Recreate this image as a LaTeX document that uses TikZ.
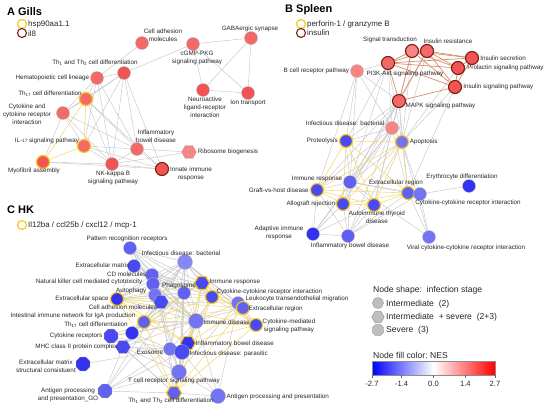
\documentclass[tikz,border=0pt]{standalone}
\usepackage{fontspec}
\setmainfont{Liberation Sans}
\usetikzlibrary{positioning, shapes.geometric, backgrounds}
\definecolor{rA}{HTML}{F05454}
\definecolor{rB}{HTML}{F46868}
\definecolor{rC}{HTML}{F68686}
\definecolor{bA}{HTML}{3232F0}
\definecolor{bB}{HTML}{4A4AF2}
\definecolor{bC}{HTML}{6060F2}
\definecolor{bD}{HTML}{7474F2}
\definecolor{bE}{HTML}{8888F4}
\definecolor{ringY}{HTML}{F7C81E}
\definecolor{ringBr}{HTML}{7E1E0E}
\definecolor{edgeY}{HTML}{F2DA78}
\definecolor{edgeO}{HTML}{D98A6A}
\definecolor{edgeG}{HTML}{C6C6C6}
\newcommand{\lowsz}[1]{{\fontsize{4.6}{5}\selectfont #1}}

\begin{document}
\begin{tikzpicture}[
    x=1pt, y=-1pt,
    pw/.style={circle, draw=black!30, line width=0.3pt, minimum size=13pt, inner sep=0pt},
    hexa/.style={regular polygon, regular polygon sides=6, draw=black!30, line width=0.3pt,
                 minimum size=15pt, inner sep=0pt},
    octa/.style={regular polygon, regular polygon sides=8, draw=black!30, line width=0.3pt,
                 minimum size=15pt, inner sep=0pt},
    ringy/.style={draw=ringY, line width=1.2pt},
    ringb/.style={draw=ringBr, line width=1.1pt},
    lbl/.style={font=\fontsize{6.3}{8}\selectfont, text=black!85, inner sep=0.5pt, align=center},
    ttl/.style={font=\fontsize{11}{12}\selectfont\bfseries, inner sep=0pt, anchor=west},
    lgd/.style={font=\fontsize{7.9}{9}\selectfont, text=black!85, inner sep=0pt, anchor=west},
    key/.style={font=\fontsize{8.6}{10}\selectfont, text=black!85, inner sep=0pt, anchor=west},
    gl/.style={draw=edgeG, line width=0.45pt},
    yl/.style={draw=edgeY, line width=0.6pt},
    ol/.style={draw=edgeO, line width=0.7pt}
]
\useasboundingbox (0,0) rectangle (550,410);

% ---------------- A Gills ----------------
\node[ttl] (tA) at (7,12) {A Gills};
\node[circle, ringy, minimum size=9pt, inner sep=0pt] (kAy) at (22,24) {};
\node[lgd] (kAyt) at (28,24) {hsp90aa1.1};
\node[circle, ringb, minimum size=9pt, inner sep=0pt] (kAb) at (22,33) {};
\node[lgd] (kAbt) at (28,34) {il8};

\node[pw, fill=rB] (cellAdh) at (142,43) {};
\node[pw, fill=rB] (cgmp) at (193,44) {};
\node[pw, fill=rB] (gaba) at (251,38) {};
\node[pw, fill=rA] (neuro) at (203,90) {};
\node[pw, fill=rA] (ionTr) at (248,93) {};
\node[pw, fill=rA] (th12G) at (124,73) {};
\node[pw, fill=rB] (hema) at (97,78) {};
\node[pw, fill=rB, ringy] (th17G) at (86,99) {};
\node[pw, fill=rB] (cytoG) at (63,113) {};
\node[pw, fill=rB, ringy] (il17) at (84,146) {};
\node[pw, fill=rA, ringy] (myo) at (43,162) {};
\node[pw, fill=rB] (ibdG) at (137,149) {};
\node[pw, fill=rA] (nfkb) at (112,164) {};
\node[hexa, fill=rC] (ribo) at (189,152) {};
\node[pw, fill=rA, ringb] (innate) at (162,169) {};

\node[lbl] (cellAdh-l) at (163,35) {Cell adhesion\\molecules};
\node[lbl] (cgmp-l) at (197,57.5) {cGMP-PKG\\signaling pathway};
\node[lbl] (gaba-l) at (250,29) {GABAergic synapse};
\node[lbl] (neuro-l) at (205,107) {Neuroactive\\ligand-receptor\\interaction};
\node[lbl] (ionTr-l) at (248,103) {Ion transport};
\node[lbl] (th12G-l) at (95,63) {Th\textsubscript{1} and Th\textsubscript{2} cell differentiation};
\node[lbl, left=0.5pt of hema] (hema-l) {Hematopoietic cell lineage};
\node[lbl] (th17G-l) at (50,94) {Th\textsubscript{17} cell differentiation};
\node[lbl] (cytoG-l) at (27,114) {Cytokine and\\cytokine receptor\\interaction};
\node[lbl] (il17-l) at (47,141) {IL-\lowsz{17} signaling pathway};
\node[lbl] (myo-l) at (34,170.5) {Myofibril assembly};
\node[lbl] (ibdG-l) at (156,136.5) {Inflammatory\\bowel disease};
\node[lbl] (nfkb-l) at (113,177.5) {NK-kappa B\\signaling pathway};
\node[lbl, right=0.5pt of ribo] (ribo-l) {Ribosome biogenesis};
\node[lbl] (innate-l) at (191,173.5) {Innate immune\\response};

% ---------------- B Spleen ----------------
\node[ttl] (tB) at (285,10) {B Spleen};
\node[circle, ringy, minimum size=9pt, inner sep=0pt] (kBy) at (301,24) {};
\node[lgd] (kByt) at (307,24) {perforin-1 / granzyme B};
\node[circle, ringb, minimum size=9pt, inner sep=0pt] (kBb) at (301,33) {};
\node[lgd] (kBbt) at (307,33) {insulin};

\node[pw, fill=rC, ringb] (sigTr) at (412,51) {};
\node[pw, fill=rB, ringb] (insRes) at (427,51) {};
\node[pw, fill=rB, ringb] (pi3k) at (388,63) {};
\node[pw, fill=rA, ringb] (insSec) at (472,58) {};
\node[pw, fill=rA, ringb] (prol) at (458,68) {};
\node[pw, fill=rA, ringb] (insSig) at (455,87) {};
\node[pw, fill=rC] (bcr) at (357,71) {};
\node[pw, fill=rB, ringb] (mapk) at (399,101) {};
\node[pw, fill=rC] (infBs) at (392,128) {};
\node[pw, fill=bB, ringy] (prot) at (346,141) {};
\node[pw, fill=bD, ringy] (apop) at (402,142) {};
\node[pw, fill=bC] (immS) at (350,182) {};
\node[pw, fill=bB, ringy] (graft) at (317,190) {};
\node[pw, fill=bA] (ery) at (469,186) {};
\node[pw, fill=bC, ringy] (ecrS) at (408,193) {};
\node[pw, fill=bD] (cytS) at (420,194) {};
\node[pw, fill=bB, ringy] (allo) at (343,204) {};
\node[pw, fill=bB, ringy] (autoT) at (374,205) {};
\node[pw, fill=bA] (adapt) at (313,234) {};
\node[pw, fill=bC] (ibdS) at (348,236) {};
\node[pw, fill=bD] (viral) at (429,237) {};

\node[lbl] (sigTr-l) at (390,40) {Signal transduction};
\node[lbl] (insRes-l) at (448,41) {Insulin resistance};
\node[lbl] (pi3k-l) at (405,74) {PI3K-Akt signaling pathway};
\node[lbl, right=0.5pt of insSec] (insSec-l) {Insulin secretion};
\node[lbl, right=1.5pt of prol] (prol-l) {Prolactin signaling pathway};
\node[lbl, right=0.5pt of insSig] (insSig-l) {Insulin signaling pathway};
\node[lbl, left=0.5pt of bcr] (bcr-l) {B cell receptor pathway};
\node[lbl, anchor=west] (mapk-l) at (405,106) {MAPK signaling pathway};
\node[lbl] (infBs-l) at (345,123) {Infectious disease: bacterial};
\node[lbl, left=0.5pt of prot] (prot-l) {Proteolysis};
\node[lbl, right=0pt of apop] (apop-l) {Apoptosis};
\node[lbl] (immS-l) at (317,179) {Immune response};
\node[lbl, left=0.5pt of graft] (graft-l) {Graft-vs-host disease};
\node[lbl] (ery-l) at (462,177) {Erythrocyte differentiation};
\node[lbl] (ecrS-l) at (396,183) {Extracellular region};
\node[lbl] (cytS-l) at (468,203) {Cytokine-cytokine receptor interaction};
\node[lbl, left=0pt of allo] (allo-l) {Allograft rejection};
\node[lbl] (autoT-l) at (377,217.5) {Autoimmune thyroid\\disease};
\node[lbl] (adapt-l) at (279,232.5) {Adaptive immune\\response};
\node[lbl] (ibdS-l) at (350,246) {Inflammatory bowel disease};
\node[lbl] (viral-l) at (466,248) {Viral cytokine-cytokine receptor interaction};

% ---------------- C HK ----------------
\node[ttl] (tC) at (7,210) {C HK};
\node[circle, ringy, minimum size=9pt, inner sep=0pt] (kCy) at (22,225) {};
\node[lgd] (kCyt) at (28,225) {Il12ba / ccl25b / cxcl12 / mcp-1};

\node[pw, fill=bC] (prr) at (130,248) {};
\node[pw, fill=bE, minimum size=15pt] (infBh) at (185,262) {};
\node[pw, fill=bB] (ecm) at (134,266) {};
\node[pw, fill=bC] (cdm) at (152,275) {};
\node[pw, fill=bC] (nkc) at (153,284) {};
\node[pw, fill=bD] (autoph) at (155,295) {};
\node[pw, fill=bA, ringy] (ecs) at (117,299) {};
\node[hexa, fill=bB] (camH) at (161,302) {};
\node[pw, fill=bC, ringy] (iin) at (144,322) {};
\node[pw, fill=bA] (th17H) at (132,333) {};
\node[octa, fill=bB] (cyr) at (111,336) {};
\node[hexa, fill=bB] (mhc) at (123,347) {};
\node[octa, fill=bA] (ecmsc) at (83,364) {};
\node[octa, fill=bC] (apgo) at (105,391) {};
\node[pw, fill=bC] (phago) at (184,293) {};
\node[hexa, fill=bB, ringy] (immH) at (202,283) {};
\node[pw, fill=bB, ringy] (cciH) at (212,297) {};
\node[pw, fill=bD] (ltm) at (238,303) {};
\node[pw, fill=bC, ringy] (ecrH) at (243,308) {};
\node[pw, fill=bD, minimum size=15pt] (immD) at (196,321) {};
\node[pw, fill=bB, ringy] (cms) at (256,325) {};
\node[hexa, fill=bA, ringy] (ibdH) at (188,343) {};
\node[pw, fill=bD] (exo) at (170,349) {};
\node[pw, fill=bB, minimum size=15pt] (infP) at (182,352) {};
\node[pw, fill=bD, minimum size=15pt] (tcr) at (179,372) {};
\node[hexa, fill=bC, ringy] (th12H) at (174,393) {};
\node[pw, fill=bD, minimum size=15pt] (app) at (218,396) {};

\node[lbl] (prr-l) at (127,239) {Pattern recognition receptors};
\node[lbl] (infBh-l) at (181,253) {Infectious disease: bacterial};
\node[lbl, anchor=east] (ecm-l) at (130,265) {Extracellular matrix};
\node[lbl, anchor=east] (cdm-l) at (147,274) {CD molecules};
\node[lbl, anchor=east] (nkc-l) at (143,282) {Natural killer cell mediated cytotoxicity};
\node[lbl, anchor=east] (autoph-l) at (147,291) {Autophagy};
\node[lbl, left=0.5pt of ecs] (ecs-l) {Extracellular space};
\node[lbl] (camH-l) at (123,307.5) {Cell adhesion molecules};
\node[lbl] (iin-l) at (73,316) {Intestinal immune network for IgA production};
\node[lbl] (th17H-l) at (96,325) {Th\textsubscript{17} cell differentiation};
\node[lbl, anchor=east] (cyr-l) at (103,336) {Cytokine receptors};
\node[lbl, anchor=east] (mhc-l) at (118,347) {MHC class II protein complex};
\node[lbl] (ecmsc-l) at (46,366.5) {Extracellular matrix\\structural consistuent};
\node[lbl] (apgo-l) at (68,395) {Antigen processing\\and presentation\_GO};
\node[lbl] (phago-l) at (179,286) {Phagosome};
\node[lbl, anchor=west] (immH-l) at (209,282) {Immune response};
\node[lbl, anchor=west] (cciH-l) at (216,292) {Cytokine-cytokine receptor interaction};
\node[lbl, anchor=west] (ltm-l) at (245,299) {Leukocyte transendothelial migration};
\node[lbl, anchor=west] (ecrH-l) at (248,309) {Extracellular region};
\node[lbl, anchor=west] (immD-l) at (203,322) {Immune disease};
\node[lbl] (cms-l) at (289,325.5) {Cytokine-mediated\\signaling pathway};
\node[lbl, anchor=west] (ibdH-l) at (195,344) {Inflammatory bowel disease};
\node[lbl, anchor=west] (infP-l) at (189,354) {Infectious disease: parasitic};
\node[lbl] (exo-l) at (150,352) {Exosome};
\node[lbl] (tcr-l) at (174,381) {T cell receptor signaling pathway};
\node[lbl] (th12H-l) at (171,401) {Th\textsubscript{1} and Th\textsubscript{2} cell differentiation};
\node[lbl, anchor=west] (app-l) at (226,397) {Antigen processing and presentation};

% ---------------- Keys ----------------
\node[key] (kShape) at (373,290) {Node shape:\ \ infection stage};
\node[circle, draw=black!45, fill=black!25, minimum size=11pt, inner sep=0pt] (kS1) at (378,303) {};
\node[key] (kS1t) at (386,304) {Intermediate\ \ (2)};
\node[regular polygon, regular polygon sides=6, draw=black!45, fill=black!25,
      minimum size=12.5pt, inner sep=0pt] (kS2) at (378,317) {};
\node[key] (kS2t) at (386,317) {Intermediate\ \ + severe\ \ (2+3)};
\node[regular polygon, regular polygon sides=8, draw=black!45, fill=black!25,
      minimum size=12pt, inner sep=0pt] (kS3) at (378,330) {};
\node[key] (kS3t) at (386,330) {Severe\ \ (3)};

\node[key] (kFill) at (373,355) {Node fill color:\ NES};
\shade[left color=blue, right color=white] (372,361) rectangle (433.5,375);
\shade[left color=white, right color=red] (433.5,361) rectangle (495,375);
\draw[black!45, line width=0.6pt] (372,361) rectangle (495,375);
\foreach \t/\xx in {-2.7/372, -1.4/401.6, 0.0/433.5, 1.4/465.4, 2.7/495} {
  \draw[black!60, line width=0.4pt] (\xx,375) -- (\xx,378);
  \node[key, anchor=center, font=\fontsize{7.6}{9}\selectfont] (tk\xx) at (\xx,383.5) {\t};
}

% ---------------- Connectors ----------------
\begin{scope}[on background layer]
% Gills
\foreach \a/\b in {cellAdh/hema, cgmp/th12G, cgmp/gaba, cgmp/neuro, cgmp/ionTr, gaba/neuro,
    gaba/ionTr, neuro/ionTr, hema/th12G, hema/th17G, hema/cytoG, hema/il17, hema/nfkb,
    hema/ibdG, th12G/th17G, th12G/il17, th12G/nfkb, th12G/ibdG, th12G/innate, th12G/cytoG,
    th17G/cytoG, th17G/nfkb, th17G/ibdG, th17G/innate, cytoG/il17, cytoG/myo, cytoG/nfkb,
    cytoG/ibdG, il17/nfkb, il17/ibdG, il17/innate, myo/nfkb, myo/innate, nfkb/ibdG,
    nfkb/innate, nfkb/ribo, ibdG/innate, ibdG/ribo}
  \draw[gl] (\a) -- (\b);
\foreach \a/\b in {th17G/il17, th17G/myo, il17/myo}
  \draw[yl] (\a) -- (\b);
% Spleen
\foreach \a/\b in {bcr/pi3k, bcr/mapk, bcr/infBs, bcr/immS, bcr/graft, bcr/prot, pi3k/infBs,
    pi3k/apop, pi3k/prot, pi3k/immS, mapk/infBs, mapk/apop, mapk/prot, mapk/immS, mapk/graft,
    mapk/allo, mapk/autoT, mapk/ecrS, sigTr/apop, sigTr/infBs, insRes/apop, insRes/immS,
    insSig/apop, insSig/ecrS, prol/apop, infBs/prot, infBs/apop, infBs/immS, infBs/graft,
    infBs/allo, infBs/autoT, infBs/ecrS, infBs/adapt, infBs/ibdS, apop/immS, apop/cytS,
    apop/viral, apop/ibdS, prot/immS, immS/graft, immS/allo, immS/autoT, immS/adapt,
    immS/ibdS, immS/ecrS, immS/cytS, immS/viral, graft/adapt, graft/ibdS, allo/adapt,
    allo/ibdS, autoT/ibdS, autoT/adapt, ecrS/cytS, ecrS/viral, ecrS/ibdS, cytS/viral,
    cytS/ery, cytS/ibdS, adapt/ibdS}
  \draw[gl] (\a) -- (\b);
\foreach \a/\b in {pi3k/sigTr, pi3k/insRes, pi3k/insSec, pi3k/prol, pi3k/insSig, pi3k/mapk,
    sigTr/insRes, sigTr/insSec, sigTr/prol, sigTr/insSig, insRes/insSec, insRes/prol,
    insRes/insSig, insSec/prol, insSec/insSig, prol/insSig, mapk/insRes, mapk/insSig,
    mapk/sigTr}
  \draw[ol] (\a) -- (\b);
\foreach \a/\b in {prot/apop, prot/graft, prot/allo, prot/autoT, prot/ecrS, apop/graft,
    apop/allo, apop/autoT, apop/ecrS, graft/allo, graft/autoT, graft/ecrS, allo/autoT,
    allo/ecrS, autoT/ecrS}
  \draw[yl] (\a) -- (\b);
% HK
\foreach \a/\b in {prr/infBh, prr/ecm, prr/cdm, prr/nkc, prr/phago, prr/immH, prr/cciH,
    prr/immD, prr/camH, infBh/cdm, infBh/nkc, infBh/autoph, infBh/phago, infBh/immH,
    infBh/cciH, infBh/ltm, infBh/ecrH, infBh/camH, infBh/immD, infBh/ecs, infBh/iin,
    infBh/th17H, infBh/exo, infBh/infP, infBh/tcr, infBh/cms, ecm/cdm, ecm/nkc, ecm/phago,
    ecm/immD, ecm/ltm, cdm/nkc, cdm/phago, cdm/immH, cdm/cciH, cdm/immD, cdm/ecrH,
    nkc/autoph, nkc/phago, nkc/immH, nkc/immD, nkc/tcr, autoph/phago, autoph/camH,
    autoph/immD, autoph/exo, camH/phago, camH/immD, camH/ltm, camH/iin, camH/th17H,
    camH/mhc, camH/tcr, camH/apgo, phago/immH, phago/immD, phago/exo, phago/infP,
    phago/tcr, phago/mhc, phago/apgo, immD/exo, immD/infP, immD/tcr, immD/ltm, immD/mhc,
    immD/cyr, immD/th17H, immD/app, th17H/cyr, th17H/mhc, th17H/tcr, th17H/exo, cyr/mhc,
    cyr/infP, mhc/exo, mhc/tcr, mhc/apgo, mhc/infP, ecmsc/exo, apgo/tcr, apgo/exo,
    apgo/infP, apgo/th12H, exo/infP, exo/tcr, infP/tcr, tcr/app, th12H/app, infP/app,
    ltm/tcr, ltm/app, ecs/ecm, ecs/cdm, ecs/nkc, ecs/autoph, ecs/camH, ecs/phago, ecs/immD,
    iin/th17H, iin/cyr, iin/mhc, iin/phago, iin/immD, th12H/tcr, th12H/mhc, th12H/cyr,
    th12H/camH, th12H/exo, th12H/infP, th12H/immD, ibdH/immD, ibdH/exo, ibdH/infP,
    immH/phago, immH/immD, cciH/immD, cciH/phago, ecrH/immD, ecrH/ltm, cms/immD, cms/ltm}
  \draw[gl] (\a) -- (\b);
\foreach \a/\b in {ecs/iin, ecs/immH, ecs/cciH, ecs/ecrH, ecs/cms, ecs/ibdH, ecs/th12H,
    iin/immH, iin/cciH, iin/ecrH, iin/ibdH, iin/th12H, iin/cms, immH/cciH, immH/ecrH,
    immH/cms, immH/ibdH, immH/th12H, cciH/ecrH, cciH/cms, cciH/ibdH, cciH/th12H, ecrH/cms,
    ecrH/ibdH, ecrH/th12H, cms/ibdH, cms/th12H, ibdH/th12H}
  \draw[yl] (\a) -- (\b);
\end{scope}

\end{tikzpicture}
\end{document}
